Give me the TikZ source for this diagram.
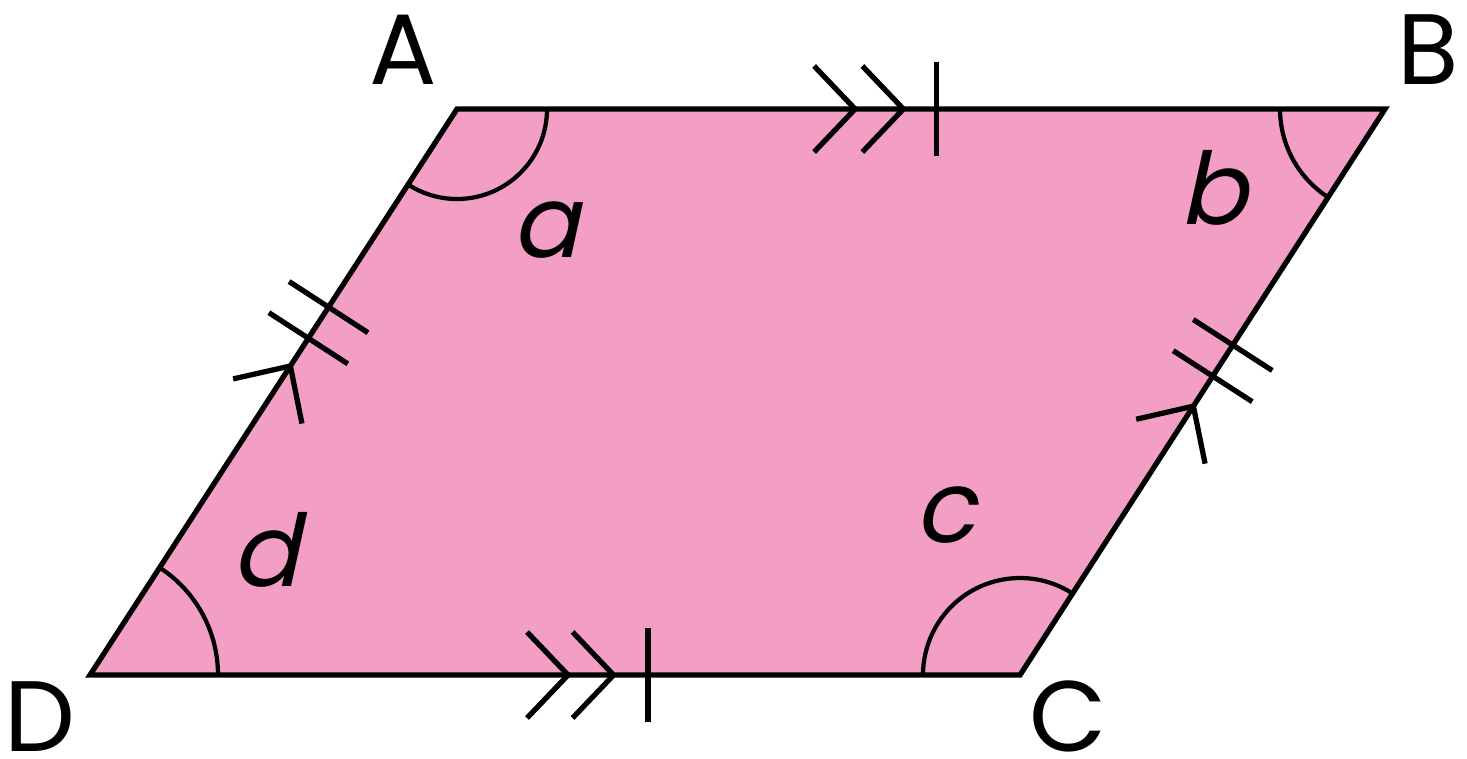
\documentclass[tikz,border=0pt]{standalone}
\usepackage{fontspec}
\setmainfont{Poppins}
\newfontfamily\slantfont[FakeSlant=0.22]{Poppins}
\usetikzlibrary{calc,decorations.markings}
\definecolor{shapepink}{RGB}{242,158,197}

\begin{document}
\begin{tikzpicture}[every node/.style={font=\fontsize{28.5}{34}\selectfont, inner sep=1pt}, edge line/.style={line width=1.5pt, line join=miter}, angle arc/.style={line width=1.2pt}]
	\useasboundingbox (0,0) rectangle (14.67,7.58);
	\coordinate (A) at (4.57,6.49);
	\coordinate (B) at (13.85,6.49);
	\coordinate (C) at (10.20,0.83);
	\coordinate (D) at (0.90,0.83);
	\filldraw[fill=shapepink, edge line] (A) -- (B) -- (C) -- (D) -- cycle;
	% angle arcs
	\draw[angle arc] ($(A)+(0:0.90)$) arc[start angle=0, end angle=-122.96, radius=0.90];
	\draw[angle arc] ($(B)+(180:1.05)$) arc[start angle=180, end angle=237.2, radius=1.05];
	\draw[angle arc] ($(C)+(57.2:0.97)$) arc[start angle=57.2, end angle=180, radius=0.97];
	\draw[angle arc] ($(D)+(0:1.28)$) arc[start angle=0, end angle=57.04, radius=1.28];
	% parallel and equal marks
	\path[decorate, decoration={markings,
		mark=at position 0.429 with {\draw[edge line] (-0.41,0.43) -- (0,0) -- (-0.41,-0.43);},
		mark=at position 0.481 with {\draw[edge line] (-0.41,0.43) -- (0,0) -- (-0.41,-0.43);},
		mark=at position 0.517 with {\draw[edge line] (0,0.47) -- (0,-0.47);}}] (A) -- (B);
	\path[decorate, decoration={markings,
		mark=at position 0.514 with {\draw[edge line] (-0.41,0.43) -- (0,0) -- (-0.41,-0.43);},
		mark=at position 0.563 with {\draw[edge line] (-0.41,0.43) -- (0,0) -- (-0.41,-0.43);},
		mark=at position 0.600 with {\draw[edge line] (0,0.47) -- (0,-0.47);}}] (D) -- (C);
	\path[decorate, decoration={markings,
		mark=at position 0.546 with {\draw[edge line] (-0.42,0.41) -- (0,0) -- (-0.42,-0.41);},
		mark=at position 0.595 with {\draw[edge line] (0,0.47) -- (0,-0.47);},
		mark=at position 0.650 with {\draw[edge line] (0,0.47) -- (0,-0.47);}}] (D) -- (A);
	\path[decorate, decoration={markings,
		mark=at position 0.475 with {\draw[edge line] (-0.42,0.41) -- (0,0) -- (-0.42,-0.41);},
		mark=at position 0.528 with {\draw[edge line] (0,0.47) -- (0,-0.47);},
		mark=at position 0.583 with {\draw[edge line] (0,0.47) -- (0,-0.47);}}] (C) -- (B);
	% vertex labels
	\node (labA) at (4.03,7.08) {A};
	\node (labB) at (14.28,7.08) {B};
	\node[anchor=base, text depth=0pt] (labC) at (10.68,0.07) {C};
	\node[anchor=base, text depth=0pt] (labD) at (0.40,0.07) {D};
	% angle labels
	\node[font=\fontsize{28.5}{34}\slantfont] (anga) at (5.45,5.28) {a};
	\node[font=\fontsize{28.5}{34}\slantfont] (angb) at (12.13,5.70) {b};
	\node[font=\fontsize{28.5}{34}\slantfont] (angc) at (9.45,2.43) {c};
	\node[font=\fontsize{28.5}{34}\slantfont] (angd) at (2.65,2.08) {d};
\end{tikzpicture}
\end{document}
